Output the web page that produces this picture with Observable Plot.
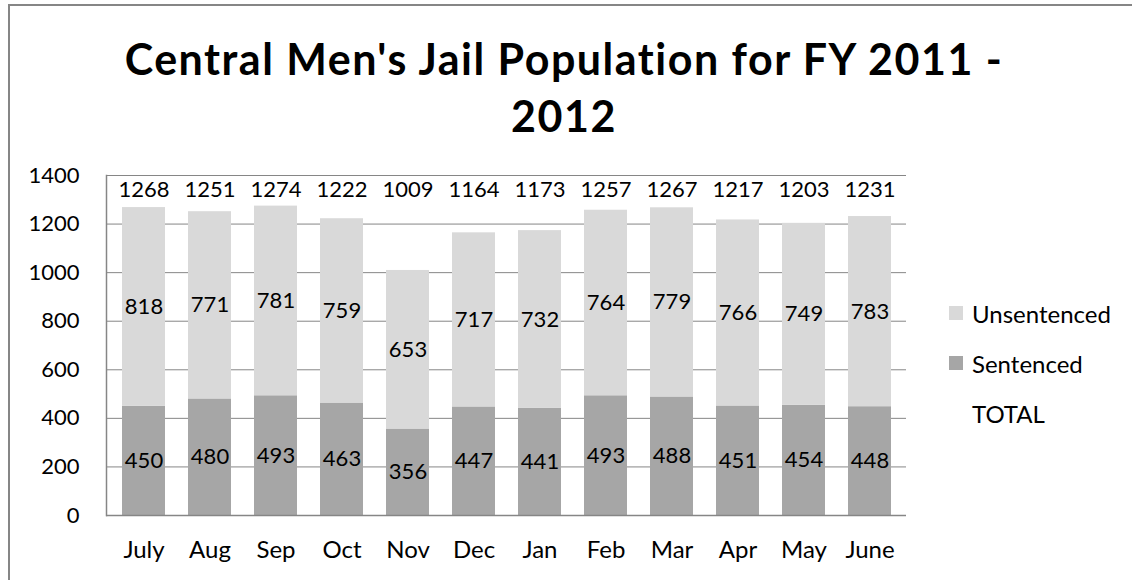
<!DOCTYPE html>
<html>
<head>
<meta charset="utf-8">
<script src="https://cdn.jsdelivr.net/npm/d3@7"></script>
<script src="https://cdn.jsdelivr.net/npm/@observablehq/plot@0.6"></script>
<style>
  html, body { margin: 0; padding: 0; background: #fff; overflow: hidden; }
  #wrap { position: relative; width: 1132px; height: 580px; overflow: hidden; font-family: Lato, "Open Sans", sans-serif; }
  #border { position: absolute; left: 8px; top: 4px; width: 1124px; height: 576px; border-left: 2px solid #868686; border-top: 2px solid #868686; box-sizing: border-box; pointer-events: none; }
  #title { height: 160px; box-sizing: border-box; padding-top: 30px; text-align: center; font-weight: bold; font-size: 43px; letter-spacing: 1.5px; line-height: 57px; color: #000; width: 1128px; }
  #legend { position: absolute; left: 949px; top: 288px; font-size: 24px; color: #000; }
  .item { display: flex; align-items: center; height: 50px; }
  .sw { width: 14px; height: 14px; margin-right: 9px; }
  #chart svg { display: block; }
</style>
</head>
<body>
<div id="wrap">
  <div id="title">Central Men's Jail Population for FY 2011 -<br>2012</div>
  <div id="chart"></div>
  <div id="legend"></div>
  <div id="border"></div>
</div>
<script>
const months = ["July","Aug","Sep","Oct","Nov","Dec","Jan","Feb","Mar","Apr","May","June"];
const sentenced = [450,480,493,463,356,447,441,493,488,451,454,448];
const unsentenced = [818,771,781,759,653,717,732,764,779,766,749,783];
const totals = [1268,1251,1274,1222,1009,1164,1173,1257,1267,1217,1203,1231];
const seriesNames = ["Sentenced","Unsentenced"];
const seriesColors = ["#a6a6a6","#d9d9d9"];
const yTicks = [0,200,400,600,800,1000,1200,1400];

const rows = [];
months.forEach((m,i) => {
  rows.push({month: m, series: "Sentenced", value: sentenced[i]});
  rows.push({month: m, series: "Unsentenced", value: unsentenced[i]});
});
const totalRows = months.map((m,i) => ({month: m, total: totals[i]}));

const chart = Plot.plot({
  width: 1132,
  height: 420,
  marginTop: 15,
  marginBottom: 65,
  marginLeft: 106,
  marginRight: 226,
  style: {fontFamily: "Lato, 'Open Sans', sans-serif", fontSize: "22px", color: "#000", background: "#fff"},
  x: {domain: months, paddingInner: 0.355, paddingOuter: 0.1775, label: null},
  y: {domain: [0,1400], label: null},
  color: {domain: seriesNames, range: seriesColors},
  marks: [
    Plot.gridY(yTicks, {stroke: "#868686", strokeOpacity: 1, strokeWidth: 1}),
    Plot.barY(rows, Plot.stackY({x: "month", y: "value", fill: "series", order: seriesNames})),
    Plot.text(rows, Plot.stackY({x: "month", y: "value", z: "series", order: seriesNames, text: d => String(d.value), fill: "#000", fontSize: 22})),
    Plot.text(totalRows, {x: "month", text: d => String(d.total), frameAnchor: "top", dy: 6, fill: "#000", fontSize: 22}),
    Plot.ruleY([0], {stroke: "#868686", strokeWidth: 1.5}),
    Plot.frame({anchor: "left", stroke: "#868686", strokeWidth: 1.5}),
    Plot.axisY(yTicks, {tickSize: 0, tickPadding: 27, fontSize: 22, tickFormat: d => String(d), label: null}),
    Plot.axisX({tickSize: 0, tickPadding: 25, fontSize: 24, label: null})
  ]
});
document.getElementById("chart").appendChild(chart);

const legendItems = [
  {name: "Unsentenced", color: "#d9d9d9"},
  {name: "Sentenced", color: "#a6a6a6"},
  {name: "TOTAL", color: null}
];
const lg = document.getElementById("legend");
legendItems.forEach(it => {
  const d = document.createElement("div");
  d.className = "item";
  const s = document.createElement("span");
  s.className = "sw";
  s.style.background = it.color || "transparent";
  d.appendChild(s);
  const t = document.createElement("span");
  t.textContent = it.name;
  d.appendChild(t);
  lg.appendChild(d);
});
</script>
</body>
</html>
